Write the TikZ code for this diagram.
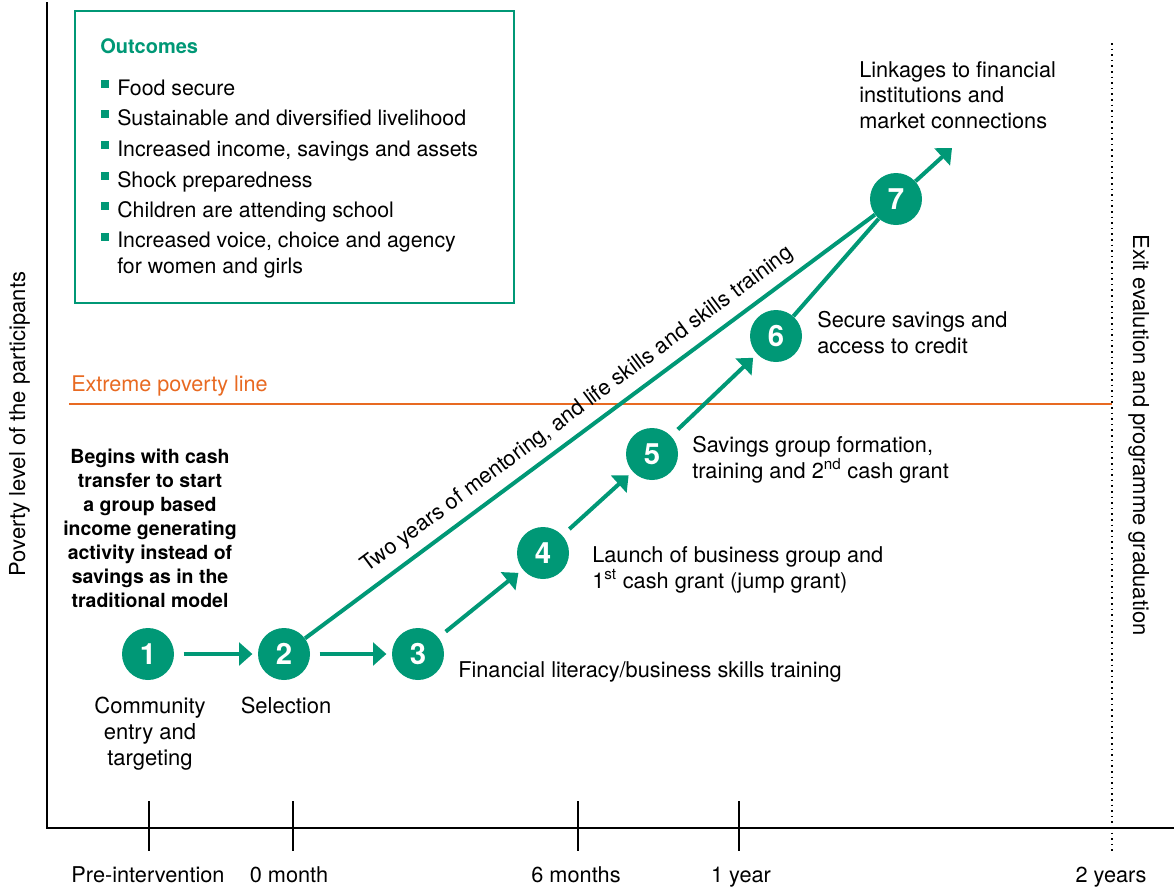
\documentclass[tikz,border=0pt]{standalone}
\usepackage{fontspec}
\setmainfont{TeX Gyre Heros}
\usepackage{tikz}
\usetikzlibrary{arrows.meta, positioning}
\definecolor{okgreen}{RGB}{0,152,118}
\definecolor{povorange}{RGB}{232,106,34}

\begin{document}
\begin{tikzpicture}[
  x=0.75pt, y=-0.75pt,
  >={Triangle[length=10pt, width=17pt]},
  stepnum/.style={circle, fill=okgreen, text=white, minimum size=39pt, inner sep=0pt, font=\fontsize{22}{22}\selectfont\bfseries},
  flow/.style={->, okgreen, line width=3pt, shorten <=7pt, shorten >=4pt},
  track/.style={okgreen, line width=3pt},
  steplabel/.style={align=left, anchor=base west, inner sep=0pt, font=\fontsize{16.3}{19}\selectfont},
  outitem/.style={align=left, anchor=base west, inner sep=0pt, font=\fontsize{16}{19}\selectfont},
  ticklabel/.style={anchor=base, inner sep=0pt, font=\fontsize{16.3}{16}\selectfont}
]
\useasboundingbox (0,0) rectangle (1174,889);

% axes
\coordinate (ytop) at (47,2);
\coordinate (xend) at (1174,828);
\draw[line width=1.6pt] (ytop) |- (xend);
\foreach \xx/\lx/\lab [count=\i] in {149/148/Pre-intervention, 293/289/0 month, 578/576/6 months, 739/741/1 year} {
  \draw[line width=1pt] (\xx,801) -- (\xx,851);
  \node[ticklabel] (tick\i) at (\lx,882) {\lab};
}
\draw[line width=1.2pt, dash pattern=on 1.2pt off 3pt] (1112,43) -- (1112,852);
\node[ticklabel] (tick5) at (1111,882) {2 years};

\node[rotate=90, anchor=base, inner sep=0pt, font=\fontsize{16.5}{16}\selectfont] (yname) at (25,424) {Poverty level of the participants};
\node[rotate=-90, anchor=base, inner sep=0pt, font=\fontsize{16.5}{16}\selectfont] (exit) at (1133,435) {Exit evalution and programme graduation};

% outcomes box
\draw[okgreen, line width=1.6pt] (75,11) rectangle (514,303);
\node[anchor=base west, inner sep=0pt, text=okgreen, font=\fontsize{15}{15}\selectfont\bfseries] (outtitle) at (100,53) {Outcomes};
\foreach \yy/\txt [count=\i] in {95/Food secure, 125/Sustainable and diversified livelihood, 156/{Increased income, savings and assets}, 187/Shock preparedness, 217/Children are attending school} {
  \node[outitem] (out\i) at (117,\yy) {\txt};
  \fill[okgreen] (101,\yy-15) rectangle ++(8,8);
}
\node[outitem] (out6) at (117,273) {Increased voice, choice and agency\\for women and girls};
\fill[okgreen] (101,233) rectangle ++(8,8);

% poverty line
\draw[povorange, line width=1.2pt] (69,404) -- (1112,404);
\node[anchor=base west, inner sep=0pt, text=povorange, font=\fontsize{16.2}{16}\selectfont] (povline) at (71,391) {Extreme poverty line};

% steps
\node[stepnum] (s1) at (148,654) {1};
\node[stepnum] (s2) at (284,654) {2};
\node[stepnum] (s3) at (418,654) {3};
\node[stepnum] (s4) at (543,553) {4};
\node[stepnum] (s5) at (652,454) {5};
\node[stepnum] (s6) at (776,336) {6};
\node[stepnum] (s7) at (896,199) {7};
\coordinate (finish) at (952,148);

\draw[flow] (s1) -- (s2);
\draw[flow] (s2) -- (s3);
\draw[flow] (s3) -- (s4);
\draw[flow] (s4) -- (s5);
\draw[flow] (s5) -- (s6);
\draw[track] (s6) -- (s7);
\draw[track] (s2) -- node[sloped, above=3pt, text=black, font=\fontsize{16.3}{16}\selectfont] {Two years of mentoring, and life skills and skills training} (s7);
\draw[flow, shorten <=0pt, shorten >=0pt] (s7) -- (finish);

% step texts
\node[align=center, anchor=base, inner sep=0pt, font=\fontsize{14.6}{18}\selectfont\bfseries] (begins) at (150,607) {Begins with cash\\transfer to start\\a group based\\income generating\\activity instead of\\savings as in the\\traditional model};
\node[align=center, anchor=base, inner sep=0pt, font=\fontsize{16.5}{19.5}\selectfont] (l1) at (150,765) {Community\\entry and\\targeting};
\node[anchor=base, inner sep=0pt, font=\fontsize{16.5}{16}\selectfont] (l2) at (286,713) {Selection};
\node[steplabel] (l3) at (458,677) {Financial literacy/business skills training};
\node[steplabel] (l4) at (592,588) {Launch of business group and\\1\textsuperscript{st} cash grant (jump grant)};
\node[steplabel] (l5) at (692,478) {Savings group formation,\\training and 2\textsuperscript{nd} cash grant};
\node[steplabel] (l6) at (817,353) {Secure savings and\\access to credit};
\node[steplabel] (l7) at (859,128) {Linkages to financial\\institutions and\\market connections};
\end{tikzpicture}
\end{document}
